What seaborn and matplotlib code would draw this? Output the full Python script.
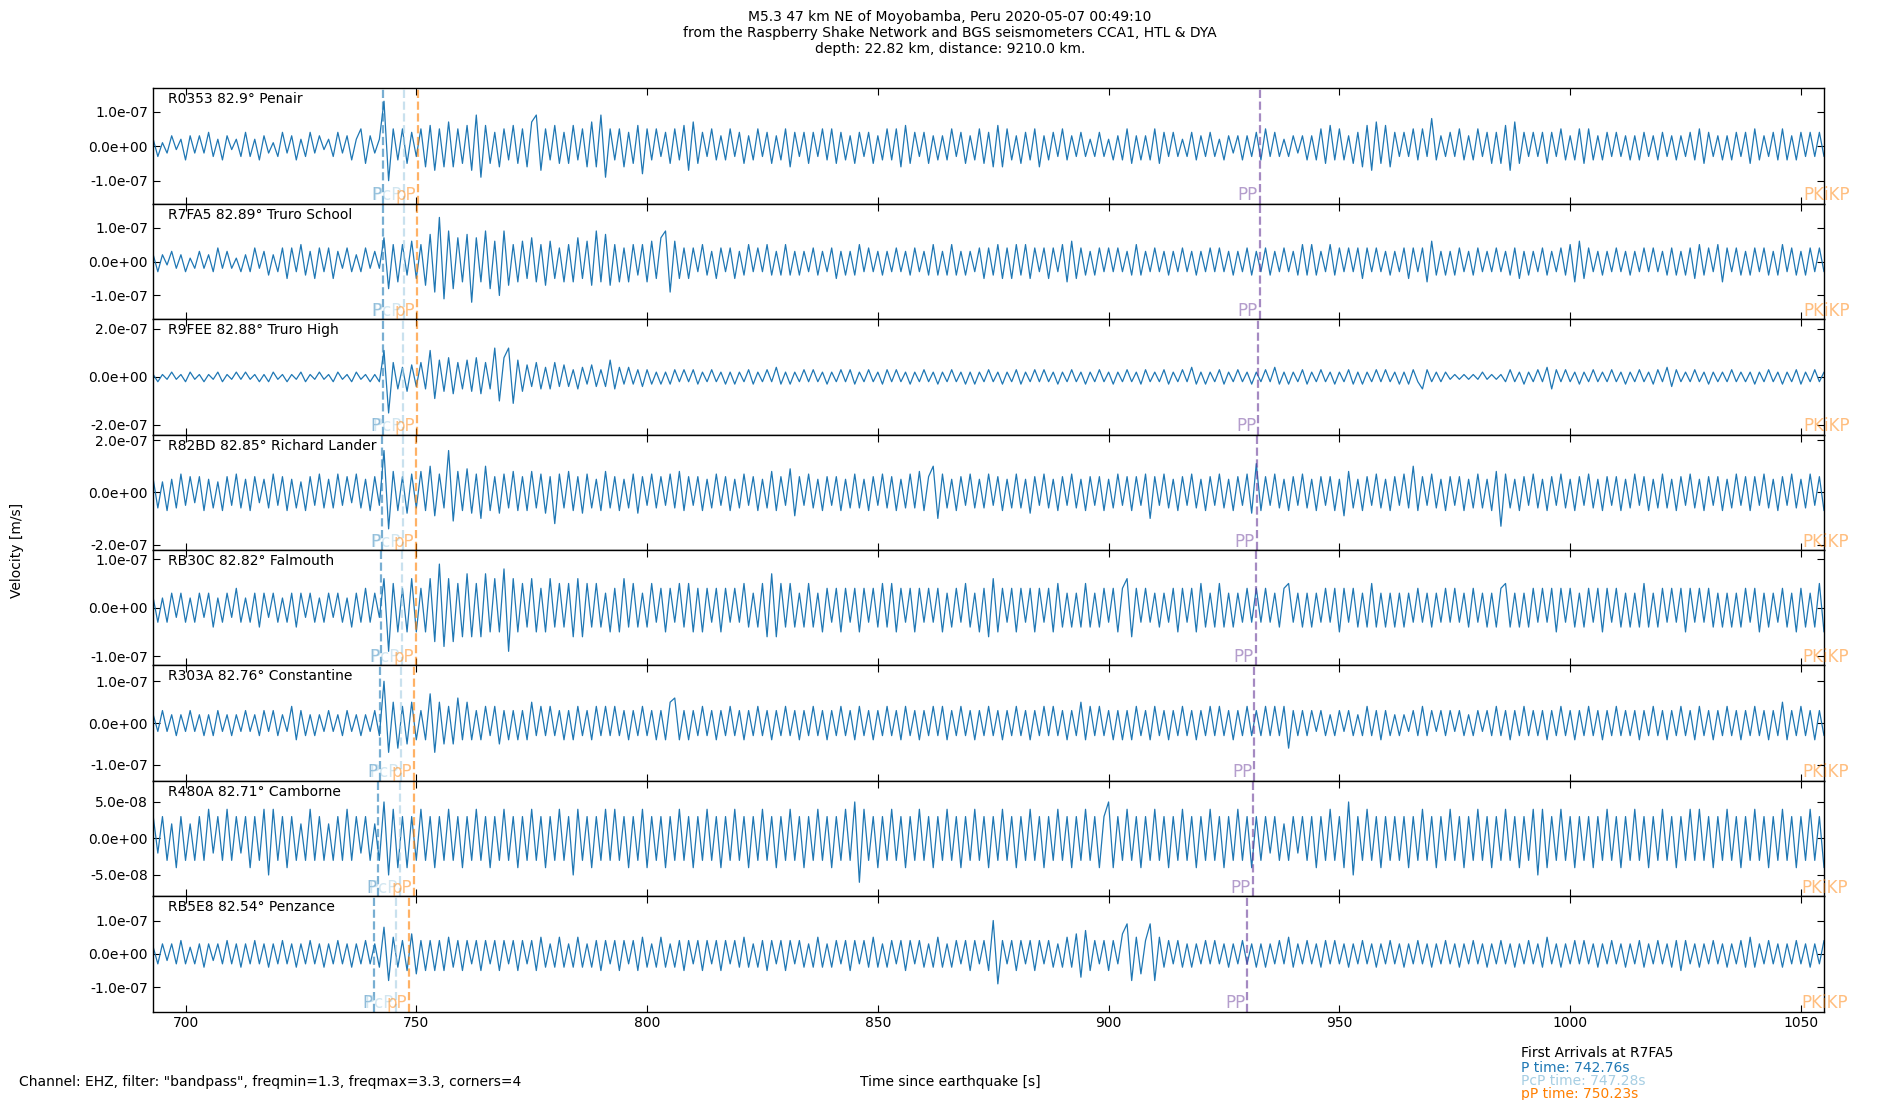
import numpy as np
import pandas as pd
import matplotlib
matplotlib.use("Agg")
import matplotlib.pyplot as plt
import matplotlib.transforms as mtransforms
from matplotlib.ticker import FormatStrFormatter
import seaborn as sns

# ---------------- data ----------------
stations = ["R0353", "R7FA5", "R9FEE", "R82BD", "RB30C", "R303A", "R480A", "RB5E8"]
distances_deg = [82.9, 82.89, 82.88, 82.85, 82.82, 82.76, 82.71, 82.54]
places = ["Penair", "Truro School", "Truro High", "Richard Lander", "Falmouth",
          "Constantine", "Camborne", "Penzance"]

phase_names = ["P", "PcP", "pP", "PP", "PKiKP"]
p_times = [742.85, 742.76, 742.7, 742.6, 742.4, 742.1, 741.8, 740.9]
pcp_times = [747.3, 747.28, 747.2, 747.1, 746.9, 746.7, 746.4, 745.6]
pp_depth_times = [750.3, 750.23, 750.1, 750.0, 749.9, 749.6, 749.4, 748.4]
pp_times = [932.7, 932.7, 932.4, 932.1, 931.9, 931.5, 931.2, 930.0]
pkikp_times = [1061.0, 1061.0, 1061.0, 1060.9, 1060.9, 1060.8, 1060.7, 1060.5]

# y-axis half ranges and tick values (m/s)
y_half_range = [1.67e-7, 1.70e-7, 2.40e-7, 2.21e-7, 1.19e-7, 1.38e-7, 0.79e-7, 1.73e-7]
y_tick_value = [1e-7, 1e-7, 2e-7, 2e-7, 1e-7, 1e-7, 5e-8, 1e-7]

first_arrival_station = "R7FA5"
first_p, first_pcp, first_pp_depth = 742.76, 747.28, 750.23

# velocity samples, units of 1e-8 m/s, one value per second from t = 693 s
VEL_UNIT = 1e-8
T_START = 693.0
DT = 1.0

trace_R0353 = [
    2,-3,1,-2,3,-1,2,-4,3,-2, 3,-2,4,-3,2,-4,3,-1,2,-3, 4,-3,2,-4,3,-2,1,-3,4,-2,
    3,-4,2,-3,4,-2,3,-1,2,-3, 4,-2,3,-4,2,5,-5,3,-2,2, 13,-10,5,-4,5,-5,4,-3,5,-6,
    6,-7,5,-6,7,-6,5,-5,6,-7, 9,-9,6,-5,4,-6,5,-4,6,-5, 5,-6,7,9,-7,5,-4,6,-5,4,
    -5,6,-4,5,-6,7,-6,9,-9,5, -4,5,-6,4,-5,6,-8,5,-4,5, -3,4,-5,5,-4,6,-7,7,-5,4,
    -3,5,-4,3,-4,5,-3,4,-5,3, -4,5,-3,4,-5,3,-4,5,-6,4, -3,4,-5,4,-3,5,-4,5,-5,4,
    -4,3,-5,4,-3,4,-5,3,-4,5, -4,5,-6,6,-5,4,-3,4,-5,3, -4,3,-4,5,-3,4,-5,3,-4,5,
    -5,4,-6,6,-6,5,-4,3,-5,4, -4,5,-6,3,-4,4,-3,5,-4,3, -3,4,-3,2,-3,4,-3,2,-4,3,
    -4,5,-5,3,-4,3,-4,5,-5,4, -3,4,-3,2,-3,4,-4,3,-3,4, -3,2,-4,3,-2,3,-4,3,-3,4,
    -4,5,-3,4,-3,2,-3,3,-2,3, -4,3,-4,5,-5,6,-4,5,-4,3, -5,4,-6,6,-7,7,-5,6,-6,4,
    -3,4,-3,5,-4,5,-3,8,-4,3, -3,4,-3,5,-4,3,-4,5,-3,4, -5,4,-5,6,-7,7,-5,4,-3,4,
    -3,4,-5,4,-3,5,-4,3,-4,5, -5,5,-4,3,-4,4,-3,4,-3,3, -4,3,-4,4,-3,3,-4,4,-3,3,
    -4,3,-3,4,-4,5,-5,4,-3,3, -4,3,-4,4,-3,4,-5,5,-4,3, -3,4,-4,5,-4,3,-4,4,-3,4,
    -3,4,-3]

trace_R7FA5 = [
    2,-3,2,-1,3,-2,2,-3,1,-2, 3,-2,2,-3,4,-2,3,-2,1,-3, 2,-3,4,-2,3,-4,2,-3,4,-5,
    4,-3,5,-4,3,-5,4,-3,4,-5, 3,-2,4,-3,2,-3,4,-2,3,-2, 7,-8,5,-6,5,-4,6,-5,5,-7,
    8,-9,13,-11,9,-8,7,-6,8,-12, 7,-6,9,-8,6,-10,9,-7,5,-6, 6,-5,7,-6,5,-7,6,-5,4,-6,
    5,-6,7,-5,6,-7,9,-6,8,-7, 5,-6,4,-6,5,-4,5,-6,6,-5, 7,9,-9,6,-5,4,-5,4,-3,5,
    -4,3,-5,4,-3,4,-5,3,-4,5, -3,4,-3,5,-4,3,-4,5,-4,3, -4,3,-3,4,-4,3,-3,4,-5,3,
    -4,3,-4,5,-3,4,-3,3,-4,3, -3,4,-3,3,-4,4,-3,3,-4,5, -4,3,-4,5,-4,3,-4,3,-3,4,
    -5,4,-4,5,-5,4,-5,5,-4,5, -5,4,-3,4,-5,4,-3,5,-6,6, -5,4,-4,3,-4,4,-3,4,-3,4,
    -3,3,-4,5,-4,3,-3,4,-3,3, -4,3,-3,4,-3,3,-4,3,-3,4, -3,4,-3,3,-4,3,-3,4,-4,3,
    -3,4,-4,3,-3,4,-3,3,-4,5, -4,5,-4,3,-3,5,-4,4,-3,4, -3,4,-5,4,-3,4,-3,3,-4,3,
    -3,4,-5,4,-3,4,-6,6,-4,3, -4,3,-4,4,-3,3,-4,4,-3,3, -3,4,-3,3,-4,4,-5,3,-4,3,
    -3,4,-4,3,-3,4,-4,5,-6,6, -5,4,-3,3,-4,3,-3,4,-3,3, -4,3,-3,4,-3,4,-3,3,-4,4,
    -4,3,-4,4,-5,5,-4,4,-3,5, -6,4,-3,4,-4,3,-4,4,-3,4, -4,3,-4,5,-3,4,-4,3,-4,4,
    -3,4,-3]

trace_R9FEE = [
    1,-2,1,-1,2,-1,1,-2,2,-1, 1,-2,1,-1,2,-2,1,-1,2,-1, 2,-1,1,-2,1,-2,2,-1,1,-2,
    1,-1,2,-2,1,-1,2,-1,1,-2, 2,-1,1,-2,2,-1,1,-2,1,-2, 11,-15,6,-5,4,-6,5,-4,6,-5,
    11,-9,7,-6,8,-7,6,-5,7,-6, 8,-7,6,-5,12,-10,8,12,-11,7, -6,5,-4,6,-5,4,-5,6,-4,5,
    -4,3,-5,4,-3,5,-4,3,-4,7, -5,4,-3,4,-3,3,-4,3,-3,2, -3,2,-3,3,-2,3,-2,3,-3,2,
    -2,3,-2,2,-3,2,-3,2,-2,3, -3,2,-2,3,-2,4,-3,2,-3,2, -2,3,-2,3,-2,2,-3,2,-2,3,
    -2,3,-3,2,-2,3,-2,2,-3,3, -2,3,-2,2,-3,2,-2,3,-2,2, -3,2,-2,3,-2,2,-3,2,-3,2,
    -2,3,-2,2,-3,2,-2,3,-3,2, -2,3,-2,3,-2,2,-3,2,-2,3, -2,2,-3,2,-2,3,-2,2,-3,2,
    -2,3,-2,2,-3,3,-2,2,-2,3, -3,2,-2,3,-2,4,-3,2,-3,2, -2,3,-3,2,-2,3,-2,2,-3,2,
    -2,3,-2,4,-3,2,-3,2,-2,3, -3,2,-2,3,-2,2,-3,2,-2,3, -3,2,-3,2,-2,3,-2,3,-2,2,
    -3,2,-3,3,-2,-5,3,-2,2,-2, 2,-1,1,-1,1,-1,1,-1,2,-1, 1,-1,1,-2,3,-2,2,-3,2,-2,
    3,-2,4,-5,3,-2,3,-2,2,-3, 2,-2,3,-2,2,-2,3,-2,2,-3, 2,-2,3,-2,2,-3,3,-2,4,-4,
    3,-2,2,-2,3,-2,2,-3,2,-2, 2,-2,3,-2,2,-2,2,-3,2,-2, 3,-2,2,-3,2,-2,3,-3,2,-2,
    3,-2,2]

trace_R82BD = [
    5,-6,4,-7,5,-6,7,-5,6,-4, 6,-7,5,-6,4,-7,6,-5,7,-6, 5,-7,6,-4,5,-6,7,-5,6,-7,
    5,-6,4,-7,6,-5,7,-6,5,-6, 7,-5,6,-4,7,-6,5,-7,6,-5, 16,-14,8,-7,6,-8,7,-6,8,-7,
    10,-9,7,-6,16,-11,8,-7,9,-8, 7,-10,10,-7,6,-8,7,-6,8,-7, 6,-7,8,-6,7,-8,6,-12,7,-6,
    8,-7,6,-8,7,-6,5,-7,8,-6, 6,-7,5,-6,7,-8,6,-5,7,-6, 6,-5,7,-6,8,-7,6,-5,6,-7,
    5,-6,7,-5,6,-7,5,-6,7,-5, 6,-7,5,-6,8,-7,6,-5,9,-9, 6,-5,7,-6,5,-7,6,-5,6,-7,
    5,-6,7,-6,5,-7,6,-5,7,-6, 6,-7,5,-6,7,-6,8,-7,6,10, -10,7,-6,5,-7,6,-5,7,-6,5,
    -6,7,-5,6,-7,5,-6,7,-6,5, -8,6,-5,7,-6,5,-7,6,-5,7, -6,5,-7,6,-5,6,-7,5,-6,7,
    -5,6,-7,6,-5,7,-10,6,-5,7, -6,5,-7,6,-5,7,-6,5,-7,6, -5,7,-6,5,-7,6,-5,7,-8,11,
    -7,6,-5,7,-6,5,-7,6,-5,7, -6,5,-7,6,-5,6,-7,5,-9,8, -6,5,-7,6,-5,7,-6,5,-7,6,
    -5,7,-6,10,-7,6,-5,7,-6,5, -7,6,-5,6,-7,5,-6,7,-6,5, -7,8,-13,7,-6,5,-7,6,-5,7,
    -6,5,-7,6,-5,7,-6,5,-7,6, -5,7,-6,5,-7,6,-5,6,-7,5, -6,7,-5,6,-7,5,-6,7,-6,5,
    -7,6,-5,7,-6,5,-7,6,-5,6, -7,5,-6,7,-5,6,-7,6,-5,7, -6,5,-7,6,-5,7,-6,5,-6,7,
    -5,6,-7]

trace_RB30C = [
    2,-3,2,-3,3,-2,3,-3,2,-3, 3,-2,3,-4,2,-3,3,-2,4,-3, 2,-3,3,-4,3,-2,3,-3,2,-3,
    3,-4,3,-2,3,-3,2,-3,3,-2, 3,-3,2,-4,3,-3,4,-3,3,-2, 6,-9,5,-5,4,-5,6,-5,4,-5,
    6,-7,9,-8,6,-7,5,-6,7,-6, 5,-6,7,-5,6,-5,8,-9,6,-5, 5,-4,6,-5,4,-5,6,-4,5,-4,
    5,-6,6,-6,5,-4,5,-4,3,-5, 4,-5,6,-4,5,-4,3,-4,5,-3, 4,-5,4,-3,5,-4,5,-5,4,-5,
    4,-3,4,-5,4,-3,4,-3,5,-4, 3,-4,5,-6,7,-6,5,-4,5,-4, 3,-4,5,-4,3,-5,4,-3,4,-5,
    4,-3,4,-5,4,-3,4,-4,5,-4, 5,-5,4,-3,4,-5,4,-3,4,-3, 4,-5,3,-4,4,-3,5,-4,3,-5,
    4,-6,6,-5,4,-3,4,-5,4,-3, 4,-5,4,-3,4,-5,5,-4,3,-4, 3,-4,5,-4,3,-4,4,-3,4,-5,
    4,6,-6,4,-3,4,-3,3,-4,3, -3,4,-5,4,-3,4,-5,5,-4,3, -4,5,-4,3,-4,3,-3,4,-3,4,
    -3,4,-3,3,-4,4,5,-3,3,-4, 3,-4,3,-3,4,-3,4,-5,4,-3, 4,-4,3,-4,5,-4,3,-4,3,-4,
    3,-4,3,-3,4,-3,3,-4,3,-3, 4,-3,4,-3,3,-4,4,-3,3,-4, 3,-4,4,5,-4,3,-4,3,-4,4,
    -3,4,-3,4,-5,4,-3,4,-4,3, -4,4,-3,4,-5,4,-3,4,-4,3, -4,3,-4,5,-4,3,-4,4,-3,4,
    -3,4,-5,4,-3,4,-3,4,-4,3, -4,3,-4,3,-4,4,-3,4,-5,3, -4,3,-3,4,-4,3,-5,4,-4,3,
    -4,5,-5]

trace_R303A = [
    2,-2,3,-2,2,-3,2,-2,3,-2, 2,-3,2,-3,3,-2,2,-3,2,-2, 3,-2,2,-3,3,-2,3,-3,2,-2,
    4,-4,3,-3,2,-3,2,-2,3,-2, 2,-3,3,-2,2,-3,2,-2,3,-3, 10,-7,5,-6,4,-5,5,-4,3,-4,
    7,-7,5,-5,4,-5,6,-4,5,-4, 3,-4,4,-3,4,-5,3,-4,3,-4, 3,-4,5,-3,4,-3,4,-3,3,-4,
    3,-4,4,-3,3,-4,4,-3,4,-3, 4,-3,3,-4,3,-3,4,-3,3,-4, 3,-4,5,6,-4,3,-4,3,-3,4,
    -3,3,-4,3,-3,4,-3,3,-4,3, -3,4,-3,3,-4,3,-3,4,-3,3, -4,3,-3,4,-3,3,-4,3,-3,4,
    -3,3,-4,4,-3,3,-4,3,-3,4, -3,3,-4,4,-3,3,-4,3,-3,4, -3,4,-4,3,-3,4,-3,3,-4,3,
    -3,4,-3,3,-4,3,-3,4,-3,3, -4,3,-3,4,-3,4,-3,3,-4,3, -3,5,-4,4,-3,4,-3,3,-4,3,
    -4,3,-4,4,-3,3,-4,4,-3,3, -4,3,-3,4,-3,3,-4,3,-3,4, -3,4,-3,3,-4,3,-3,4,-3,3,
    -3,4,-3,4,-3,4,-6,3,-3,3, -3,3,-2,3,-3,2,-3,3,-2,3, -3,2,-3,4,-3,3,-4,3,-3,2,
    -3,2,-2,3,-3,4,-3,3,-2,3, -3,3,-2,3,-3,2,-3,3,-2,3, -3,4,-3,3,-4,3,-3,4,-3,3,
    -3,3,-4,3,-3,4,-3,3,-4,3, -3,4,-3,3,-4,3,-3,4,-3,3, -3,3,-4,3,-3,4,-3,3,-4,3,
    -3,4,-3,3,-4,4,-3,3,-4,3, -3,4,-3,3,-4,3,-3,4,-3,3, -4,3,-3,5,-4,3,-3,4,-3,3,
    -4,3,-3]

trace_R480A = [
    3,-2,3,-3,2,-4,3,-3,2,-3, 3,-3,4,-2,3,-3,4,-3,3,-2, 3,-4,3,-3,4,-5,4,-3,3,-4,
    3,-3,2,-3,4,-3,3,-3,2,-3, 3,-3,4,-3,3,-2,3,-3,2,-3, 5,-5,4,-4,3,-4,3,-3,4,-3,
    3,-4,3,-3,4,-3,3,-4,3,-3, 4,-3,3,-4,3,-3,4,-3,3,-4, 3,-3,4,-3,3,-4,3,-3,4,-3,
    3,-5,4,-3,3,-4,3,-3,4,-3, 4,-3,3,-4,3,-3,4,-4,3,-3, 3,-4,3,-3,4,-3,3,-4,3,-3,
    4,-3,3,-4,3,-3,4,-3,3,-4, 3,-3,4,-3,3,-4,3,-3,4,-3, 3,-4,3,-3,4,-3,3,-4,3,-3,
    4,-3,5,-6,4,-3,3,-4,3,-3, 4,-3,3,-4,3,-3,4,-3,3,-4, 3,-3,4,-3,3,-4,3,-3,4,-3,
    3,-4,3,-3,4,-3,3,-4,3,-3, 4,-3,3,-4,3,-3,4,-3,3,-4, 3,-3,4,-3,3,-4,3,5,-4,3,
    -3,4,-3,3,-4,3,-3,4,-3,3, -4,3,-3,4,-3,3,-4,3,-3,4, -3,3,-4,3,-3,4,-3,3,-4,3,
    -3,3,-2,3,-3,2,-3,3,-2,3, -3,3,-4,3,-3,4,-3,3,-4,5, -5,3,-3,4,-3,3,-4,3,-3,3,
    -3,3,-4,3,-3,4,-3,3,-4,3, -3,4,-3,3,-4,3,-3,4,-3,3, -4,3,-3,4,-3,3,-4,3,-3,4,
    -5,4,-4,3,-3,4,-3,3,-4,3, -3,3,-4,3,-3,4,-3,3,-4,3, -3,4,-3,3,-4,3,-3,4,-3,3,
    -4,3,-3,4,-3,4,-3,3,-4,3, -3,4,-3,3,-4,3,-3,4,-3,3, -4,3,-3,4,-3,3,-4,3,-3,4,
    -3,3,-4]

trace_RB5E8 = [
    2,-3,3,-2,3,-3,4,-3,2,-3, 3,-4,3,-2,3,-3,4,-3,3,-4, 3,-3,4,-3,3,-4,3,-3,4,-3,
    3,-4,3,-3,4,-3,3,-4,3,-3, 4,-3,3,-4,3,-3,4,-3,3,-4, 8,-8,5,-4,4,-5,6,-6,4,-5,
    4,-5,4,-5,5,-4,4,-5,4,-3, 4,-5,4,-3,4,-5,4,-3,4,-5, 4,-3,4,-5,5,-4,3,-4,5,-4,
    3,-4,5,-4,3,-4,4,-5,4,-3, 4,-5,4,-3,4,-5,5,-4,3,-4, 5,-4,3,-4,4,-5,4,-3,4,-5,
    4,-3,4,-5,4,-3,4,-4,5,-4, 3,-4,4,-5,4,-3,4,-5,4,-3, 4,-4,3,-4,5,-4,3,-4,4,-3,
    4,-5,4,-3,4,-4,5,-4,3,-4, 4,-3,4,-5,4,-3,4,-4,3,-4, 5,-4,3,-4,4,-3,4,-5,4,-3,
    4,-5,10,-9,4,-3,4,-5,4,-3, 4,-5,4,-3,4,-4,3,-4,5,-4, 6,-7,7,-5,4,-3,4,-5,4,-3,
    6,9,-8,5,-6,4,9,-8,5,-4, 4,-3,4,-4,3,-4,3,-3,4,-3, 4,-3,3,-4,3,-3,4,-3,3,-4,
    3,-4,3,-3,4,-3,5,-4,3,-3, 4,-3,3,-4,4,-3,4,-3,3,-4, 3,-3,4,-3,3,-4,3,-3,4,-3,
    3,-4,3,-3,4,-3,3,-4,3,-3, 4,-3,3,-4,3,-3,4,-3,3,-4, 3,-3,4,-3,3,-4,3,-3,4,-3,
    3,-4,5,-3,3,-4,3,-3,4,-3, 4,-3,3,-4,3,-3,4,-3,3,-4, 3,-3,4,-4,3,-3,4,-3,3,-4,
    4,-5,4,-3,3,-4,3,-3,4,-3, 3,-4,3,-3,4,-4,5,-4,3,-3, 4,-3,3,-4,3,-3,4,-3,3,-4,
    3,-3,4]

traces = [trace_R0353, trace_R7FA5, trace_R9FEE, trace_R82BD,
          trace_RB30C, trace_R303A, trace_R480A, trace_RB5E8]

x_limits = (692.9, 1055.0)
x_ticks = [700, 750, 800, 850, 900, 950, 1000, 1050]

title_lines = ["M5.3 47 km NE of Moyobamba, Peru 2020-05-07 00:49:10",
               "from the Raspberry Shake Network and BGS seismometers CCA1, HTL & DYA",
               "depth: 22.82 km, distance: 9210.0 km."]
filter_text = 'Channel: EHZ, filter: "bandpass", freqmin=1.3, freqmax=3.3, corners=4'

# ---------------- styles ----------------
sns.set_style("white")
plt.rcParams.update({
    "font.family": ["DejaVu Sans"],
    "axes.edgecolor": "black",
    "axes.linewidth": 1.0,
    "text.color": "black",
    "xtick.color": "black",
    "ytick.color": "black",
    "axes.labelcolor": "black",
})

TRACE_COLOR = "#1f77b4"
phase_colors = {"P": "#1f78b4", "PcP": "#a6cee3", "pP": "#ff7f00",
                "PP": "#6a3d9a", "PKiKP": "#ff7f00"}

fig, axes = plt.subplots(8, 1, figsize=(19, 11), dpi=100, sharex=True)
fig.subplots_adjust(left=0.0804, right=0.960, top=0.9196, bottom=0.0804, hspace=0)

# invisible full-figure axes (only its left ticks show at the figure edge)
bg = fig.add_axes([0, 0, 1, 1], frameon=False, zorder=-5)
bg.set_xticks([])
bg.tick_params(axis="y", direction="in", labelleft=False, length=4)
bg.set_yticks([0, 0.2, 0.4, 0.6, 0.8, 1.0])
bg.patch.set_alpha(0)

for i, ax in enumerate(axes):
    vals = np.asarray(traces[i], dtype=float) * VEL_UNIT
    times = T_START + DT * np.arange(len(vals))
    df = pd.DataFrame({"time": times, "velocity": vals})
    sns.lineplot(data=df, x="time", y="velocity", ax=ax, color=TRACE_COLOR,
                 linewidth=0.9, estimator=None, sort=False)
    ax.set_xlabel("")
    ax.set_ylabel("")
    ax.set_ylim(-y_half_range[i], y_half_range[i])
    ax.set_yticks([-y_tick_value[i], 0, y_tick_value[i]])
    ax.yaxis.set_major_formatter(FormatStrFormatter("%.1e"))
    ax.tick_params(direction="in", top=True, right=True, bottom=True, left=True,
                   labelsize=10, length=5)

    trans = mtransforms.blended_transform_factory(ax.transData, ax.transAxes)
    arrivals = [p_times[i], pcp_times[i], pp_depth_times[i], pp_times[i], pkikp_times[i]]
    for name, t in zip(phase_names, arrivals):
        col = phase_colors[name]
        ax.axvline(t, color=col, linestyle="--", linewidth=1.6, alpha=0.6)
        ax.text(t - 0.4, 0.03, name, transform=trans, color=col, alpha=0.5,
                ha="right", va="baseline", fontsize=12, clip_on=False)

    ax.text(0.0094, 0.965, f"{stations[i]} {distances_deg[i]}° {places[i]}",
            transform=ax.transAxes, ha="left", va="top", fontsize=10)

axes[-1].set_xlim(*x_limits)
axes[-1].set_xticks(x_ticks)
axes[-1].tick_params(axis="x", labelsize=10)

fig.text(0.5, 0.991, "\n".join(title_lines), ha="center", va="top", fontsize=10)
fig.text(0.009, 0.5, "Velocity [m/s]", rotation=90, ha="center", va="center", fontsize=10)
fig.text(0.0102, 0.0165, filter_text, ha="left", va="center", fontsize=10)
fig.text(0.5, 0.0165, "Time since earthquake [s]", ha="center", va="center", fontsize=10)

fig.text(0.8004, 0.0425, f"First Arrivals at {first_arrival_station}", ha="left",
         va="center", fontsize=10, color="black")
fig.text(0.8004, 0.0295, f"P time: {first_p:.2f}s", ha="left", va="center",
         fontsize=10, color=phase_colors["P"])
fig.text(0.8004, 0.0175, f"PcP time: {first_pcp:.2f}s", ha="left", va="center",
         fontsize=10, color=phase_colors["PcP"])
fig.text(0.8004, 0.0055, f"pP time: {first_pp_depth:.2f}s", ha="left", va="center",
         fontsize=10, color=phase_colors["pP"])

fig.savefig("out.png", dpi=100)
